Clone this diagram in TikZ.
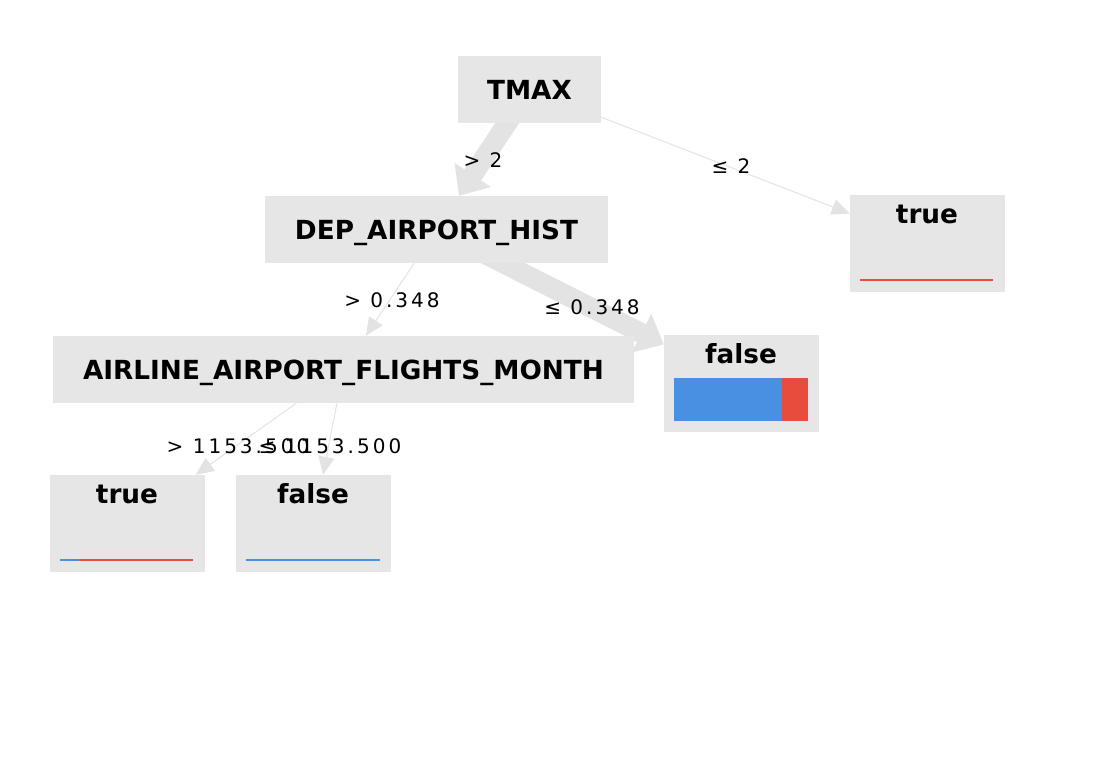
\documentclass[tikz,border=0pt]{standalone}
\usepackage{fontspec}
\usetikzlibrary{arrows.meta}
\newfontfamily\boxfont{DejaVu Sans}[BoldFont={DejaVu Sans Bold}]
\newfontfamily\lblfont{DejaVu Sans}[LetterSpace=15]
\definecolor{boxgray}{HTML}{E6E6E6}
\definecolor{edgegray}{HTML}{E3E3E3}
\definecolor{tblue}{HTML}{4A90E2}
\definecolor{tred}{HTML}{E74C3C}
\pgfdeclarelayer{edges}
\pgfsetlayers{edges,main}
\begin{document}
\begin{tikzpicture}[x=1pt,y=-1pt,
  inner/.style={fill=boxgray, draw=none, minimum height=67pt, inner sep=0pt,
    text height=19.2pt, text depth=0pt,
    font=\boxfont\bfseries\fontsize{26.3}{30}\selectfont},
  leaf/.style={fill=boxgray, draw=none, minimum width=155pt, minimum height=97pt, inner sep=0pt},
  leaftxt/.style={inner sep=0pt, text height=19.2pt, text depth=0pt,
    font=\boxfont\bfseries\fontsize{26.3}{30}\selectfont},
  thick edge/.style={draw=edgegray, line width=20pt, -{Triangle[width=42pt,length=25pt]}},
  thin edge/.style={draw=edgegray, line width=1pt, -{Triangle[width=16pt,length=18pt]}},
  lbl/.style={inner sep=0pt, font=\lblfont\fontsize{20}{24}\selectfont}
]
\path[use as bounding box] (0,0) rectangle (1116,778);

% nodes
\node[inner, minimum width=143pt] (tmax) at (529.5,89.5) {TMAX};
\node[inner, minimum width=343pt] (dep) at (436.5,229.5) {DEP\_AIRPORT\_HIST};
\node[inner, minimum width=581pt] (air) at (343.5,369.5) {AIRLINE\_AIRPORT\_FLIGHTS\_MONTH};
\node[leaf] (t1) at (927.5,243.5) {};
\node[leaf] (f1) at (741.5,383.5) {};
\node[leaf] (t2) at (127.5,523.5) {};
\node[leaf] (f2) at (313.5,523.5) {};

% leaf texts
\node[leaftxt] (t1txt) at (927,214) {true};
\node[leaftxt] (f1txt) at (741,354) {false};
\node[leaftxt] (t2txt) at (127,494) {true};
\node[leaftxt] (f2txt) at (313,494) {false};

% class bars
\fill[tred] (860,279) rectangle (993,281);
\fill[tblue] (674,378) rectangle (782,421);
\fill[tred] (782,378) rectangle (808,421);
\fill[tblue] (60,559) rectangle (79,561);
\fill[tred] (79,559) rectangle (193,561);
\fill[tblue] (246,559) rectangle (380,561);

% edges (behind the boxes, starting at the parent's centre)
\begin{pgfonlayer}{edges}
\draw[thick edge] (tmax.center) -- (dep);
\draw[thin edge] (tmax) -- (t1);
\draw[thin edge] (dep) -- (air);
\draw[thick edge] (dep.center) -- (f1);
\draw[thin edge] (air) -- (t2);
\draw[thin edge] (air) -- (f2);
\end{pgfonlayer}

% edge labels
\node[lbl] (l1) at (483,160) {> 2};
\node[lbl] (l2) at (731,166) {≤ 2};
\node[lbl] (l3) at (392,300) {> 0.348};
\node[lbl] (l4) at (592,307) {≤ 0.348};
\node[lbl] (l5) at (238,446) {> 1153.500};
\node[lbl] (l6) at (330,446) {≤ 1153.500};
\end{tikzpicture}
\end{document}
